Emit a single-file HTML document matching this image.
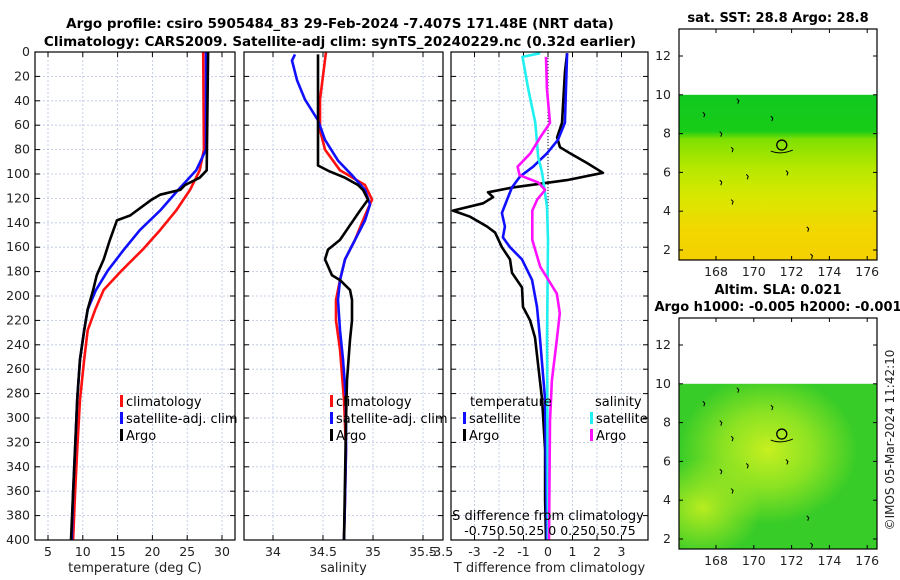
<!DOCTYPE html>
<html><head><meta charset="utf-8"><style>
body{margin:0;background:#fff;}
svg{display:block;font-family:"DejaVu Sans","Liberation Sans",sans-serif;}
</style></head><body>
<svg id="c" width="900" height="580" viewBox="0 0 900 580">
<defs>
<linearGradient id="sst" x1="0" y1="0" x2="0" y2="1">
<stop offset="0" stop-color="#10c820"/><stop offset="0.22" stop-color="#18cc18"/><stop offset="0.27" stop-color="#80e000"/><stop offset="0.45" stop-color="#b8e800"/><stop offset="0.62" stop-color="#d8e800"/><stop offset="0.8" stop-color="#f0d800"/><stop offset="1" stop-color="#f4d000"/>
</linearGradient>
<radialGradient id="sla1" cx="0.45" cy="0.4" r="0.45"><stop offset="0" stop-color="#c8f020"/><stop offset="0.5" stop-color="#b0ec20" stop-opacity="0.7"/><stop offset="1" stop-color="#b0ec20" stop-opacity="0"/></radialGradient>
<radialGradient id="sla2" cx="0.12" cy="0.75" r="0.3"><stop offset="0" stop-color="#b8ec20"/><stop offset="1" stop-color="#b8ec20" stop-opacity="0"/></radialGradient>
</defs>
<g font-weight="bold" font-size="13.5" text-anchor="middle" fill="#000">
<text x="340" y="28">Argo profile: csiro 5905484_83 29-Feb-2024 -7.407S 171.48E (NRT data)</text>
<text x="340" y="46">Climatology: CARS2009. Satellite-adj clim: synTS_20240229.nc (0.32d earlier)</text>
</g>
<g id="panels"></g>
<g id="maps"></g>
<text transform="translate(894,440) rotate(-90)" font-size="12" text-anchor="middle" fill="#222">©IMOS 05-Mar-2024 11:42:10</text>
</svg>
<script>
// ---- data ----
const clim_T_depth=[0,80,97,113,130,146,162,179,195,211,228,252,285,326,361,400];
const clim_T=[27.3,27.4,26.8,25.4,23.4,21.1,18.6,15.6,13.0,11.8,10.7,10.2,9.6,9.2,8.9,8.6];
const sat_T=[27.7,27.7,26.3,23.7,21.1,18.2,15.9,13.6,11.9,10.7,10.2,9.6,9.2,8.9,8.6,8.4];
const argo_T_depth=[0,97,103,109,113,117,121,134,138,154,170,183,195,211,228,252,285,400];
const argo_T=[28.0,27.8,26.8,24.7,24.0,21.1,19.9,16.8,14.9,13.9,13.0,12.0,11.5,10.7,10.2,9.6,9.2,8.3];

const clim_S_depth=[0,39,64,80,97,109,121,134,154,170,187,203,220,244,285,326,367,400];
const clim_S=[34.53,34.47,34.47,34.52,34.67,34.92,34.99,34.92,34.82,34.72,34.67,34.63,34.63,34.67,34.71,34.73,34.72,34.71];
const sat_S_depth=[2,7,23,39,56,72,89,101,113,125,138,154,170,187,203,228,252,285,326,367,400];
const sat_S=[34.22,34.19,34.24,34.32,34.45,34.52,34.65,34.79,34.92,34.97,34.92,34.82,34.72,34.67,34.65,34.67,34.70,34.73,34.73,34.72,34.71];
const argo_S_depth=[2,39,93,98,103,109,113,121,130,142,154,162,170,183,187,195,203,220,236,269,302,400];
const argo_S=[34.45,34.45,34.45,34.57,34.72,34.85,34.90,34.95,34.87,34.77,34.67,34.55,34.52,34.59,34.67,34.77,34.79,34.79,34.77,34.74,34.73,34.71];

const dT_argo_depth=[1,17,58,70,78,83,91,99,105,111,115,119,124,130,135,143,148,160,170,181,193,209,220,234,285,326,367,400];
const dT_argo=[0.78,0.69,0.57,0.37,0.49,0.90,1.59,2.24,0.78,-1.43,-2.45,-2.24,-2.65,-3.88,-3.18,-2.49,-2.16,-1.88,-1.55,-1.47,-1.06,-1.02,-0.73,-0.53,-0.24,-0.12,-0.12,-0.08];
const dT_sat_depth=[1,58,72,83,94,102,111,121,132,143,152,160,170,187,209,234,285,400];
const dT_sat=[0.78,0.69,0.41,-0.04,-0.61,-1.14,-1.47,-1.67,-1.88,-1.76,-1.84,-1.55,-1.06,-0.65,-0.45,-0.33,-0.12,-0.04];
const dS_sat_depth=[1,4,31,58,86,99,127,154,236,400];
const dS_sat=[-0.08,-0.26,-0.20,-0.13,-0.10,-0.06,-0.01,0,-0.01,0];
const dS_argo_depth=[4,31,58,70,83,94,101,107,113,121,130,154,176,198,214,236,269,302,400];
const dS_argo=[-0.02,-0.01,0.02,-0.08,-0.18,-0.31,-0.29,-0.10,-0.03,-0.11,-0.16,-0.16,-0.08,0.09,0.12,0.09,0.04,0.02,0.01];

const depthTicks=[0,20,40,60,80,100,120,140,160,180,200,220,240,260,280,300,320,340,360,380,400];
const tempTicks=[5,10,15,20,25,30];
const salTicks=[34,34.5,35,35.5];
const dTTicks=[-3,-2,-1,0,1,2,3];
const latTicks=[2,4,6,8,10,12];
const lonTicks=[168,170,172,174,176];

// ---- helpers ----
const NS='http://www.w3.org/2000/svg';
function mk(tag,attrs,parent){const e=document.createElementNS(NS,tag);for(const k in attrs)e.setAttribute(k,attrs[k]);parent.appendChild(e);return e;}
const Y0=52,Y1=540;
const yD=d=>Y0+d*(Y1-Y0)/400;
const panels=document.getElementById('panels');

function panel(name,x0,x1,xs,ticks,tickFmt,showY,xlabel){
  const g=mk('g',{},panels);
  
  
  const grid=mk('g',{stroke:'#b8c4e4','stroke-width':0.8,'stroke-dasharray':'2,2'},g);
  
  
  depthTicks.forEach(d=>{mk('line',{x1:x0,x2:x1,y1:yD(d),y2:yD(d)},grid);});
  ticks.forEach(t=>{const x=xs(t);if(x>x0&&x<x1)mk('line',{x1:x,x2:x,y1:Y0,y2:Y1},grid);});
  const tk=mk('g',{stroke:'#000','stroke-width':1},g);
  depthTicks.forEach(d=>{mk('line',{x1:x0,x2:x0+5,y1:yD(d),y2:yD(d)},tk);mk('line',{x1:x1,x2:x1-5,y1:yD(d),y2:yD(d)},tk);});
  ticks.forEach(t=>{const x=xs(t);mk('line',{x1:x,x2:x,y1:Y1,y2:Y1-5},tk);mk('line',{x1:x,x2:x,y1:Y0,y2:Y0+5},tk);});
  const lab=mk('g',{'font-size':12.5,fill:'#222','text-anchor':'middle'},g);
  ticks.forEach(t=>{const e=mk('text',{x:xs(t),y:Y1+16},lab);e.textContent=tickFmt(t);
    
    });
  if(showY){depthTicks.forEach(d=>{const e=mk('text',{x:x0-5,y:yD(d)+4,'text-anchor':'end'},lab);e.textContent=d;
    
    });}
  const xl=mk('text',{x:(x0+x1)/2,y:572,'font-size':13},lab);xl.textContent=xlabel;
  
  
  return g;
}
function line(g,name,depths,vals,xs,color,w){
  const d=depths.map((dp,i)=>(i?'L':'M')+xs(vals[i]).toFixed(1)+','+yD(dp).toFixed(1)).join('');
  const p=mk('path',{d:d,fill:'none',stroke:color,'stroke-width':w||2.6,'stroke-linejoin':'round'},g);
  
  
}
function frame(g,x0,x1){const r=mk('rect',{x:x0,y:Y0,width:x1-x0,height:Y1-Y0,fill:'none',stroke:'#000','stroke-width':1.2},g);
  
  }
function legend(g,x,y,items){
  items.forEach((it,i)=>{
    if(it[1]){const b=mk('rect',{x:x,y:y+i*17-11,width:3,height:12,fill:it[1]},g);
      
      }
    const t=mk('text',{x:it[1]?x+6:x,y:y+i*17,'font-size':13,fill:'#000'},g);t.textContent=it[0];
    
    
  });
}

// panel 1 temperature
const xT=t=>48+(t-5)*6.96;
let g1=panel('temperature-panel',35,235,xT,tempTicks,t=>t,true,'temperature (deg C)');
line(g1,'clim-temp-line',clim_T_depth,clim_T,xT,'#ff1010');
line(g1,'sat-temp-line',clim_T_depth,sat_T,xT,'#1010ff');
line(g1,'argo-temp-line',argo_T_depth,argo_T,xT,'#000');
frame(g1,35,235);
legend(g1,120,406,[['climatology','#ff1010'],['satellite-adj. clim','#1010ff'],['Argo','#000']]);

// panel 2 salinity
const xS=s=>273+(s-34)*100;
let g2=panel('salinity-panel',244,443,xS,salTicks,t=>t,false,'salinity');
line(g2,'clim-sal-line',clim_S_depth,clim_S,xS,'#ff1010');
line(g2,'sat-sal-line',sat_S_depth,sat_S,xS,'#1010ff');
line(g2,'argo-sal-line',argo_S_depth,argo_S,xS,'#000');
frame(g2,244,443);
legend(g2,330,406,[['climatology','#ff1010'],['satellite-adj. clim','#1010ff'],['Argo','#000']]);

// panel 3 differences
const xdT=v=>548+v*24.5;
const xdS=v=>548+v*98;
let g3=panel('difference-panel',451,648,xdT,dTTicks,t=>t,false,'T difference from climatology');
const zl=mk('line',{x1:548,x2:548,y1:Y0,y2:Y1,stroke:'#333','stroke-width':1.2,'stroke-dasharray':'1,2'},g3);


line(g3,'argo-dT-line',dT_argo_depth,dT_argo,xdT,'#000');
line(g3,'sat-dT-line',dT_sat_depth,dT_sat,xdT,'#1010ff');
line(g3,'sat-dS-line',dS_sat_depth,dS_sat,xdS,'#20f0f0');
line(g3,'argo-dS-line',dS_argo_depth,dS_argo,xdS,'#ff10ff');
frame(g3,451,648);
legend(g3,470,406,[['temperature',null]]);
legend(g3,463,423,[['satellite','#1010ff'],['Argo','#000']]);
legend(g3,595,406,[['salinity',null]]);
legend(g3,590,423,[['satellite','#20f0f0'],['Argo','#ff10ff']]);
const s1=mk('text',{x:548,y:520,'font-size':13,'text-anchor':'middle'},g3);s1.textContent='S difference from climatology';


const s2=mk('text',{x:550,y:535,'font-size':12.5,'text-anchor':'middle'},g3);s2.textContent='-0.750.50.25 0 0.250.50.75';


const t35=mk('text',{x:441,y:Y1+16,'font-size':12.5,'text-anchor':'middle',fill:'#222'},g3);t35.textContent='-3.5';



// maps
const maps=document.getElementById('maps');
function map(name,top,title,fill){
  const g=mk('g',{},maps);
  
  
  const L=679,R=877,H=231;
  const lat=v=>top+27+(12-v)*19.4;
  const lon=v=>716+(v-168)*18.9;
  const f=mk('rect',{x:L,y:lat(10),width:R-L,height:lat(1.5)-lat(10),fill:fill},g);
  
  
  if(name==='sla-map'){
    mk('rect',{x:L,y:lat(10),width:R-L,height:lat(1.5)-lat(10),fill:'url(#sla1)'},g);
    mk('rect',{x:L,y:lat(10),width:R-L,height:lat(1.5)-lat(10),fill:'url(#sla2)'},g);
  }
  const c=mk('circle',{cx:lon(171.48),cy:lat(7.41),r:5,fill:'none',stroke:'#000','stroke-width':1.3},g);
  
  
  mk('path',{d:`M${lon(170.9)},${lat(7.1)}q10,4 22,-1`,fill:'none',stroke:'#000','stroke-width':1},g);
  [[167.3,9.1],[168.2,8.1],[168.8,7.3],[169.6,5.9],[168.2,5.6],[168.8,4.6],[171.7,6.1],[172.8,3.2],[173,1.8],[170.9,8.9],[169.1,9.8]].forEach(p=>{
    mk('path',{d:`M${lon(p[0])},${lat(p[1])}l2,2l-1,3`,fill:'none',stroke:'#000','stroke-width':1},g);});
  mk('rect',{x:L,y:top,width:R-L,height:H,fill:'none',stroke:'#000','stroke-width':1.2},g);
  const lab=mk('g',{'font-size':12.5,fill:'#222'},g);
  latTicks.forEach(v=>{const y=lat(v);
    mk('line',{x1:L,x2:L+4,y1:y,y2:y,stroke:'#000'},g);mk('line',{x1:R,x2:R-4,y1:y,y2:y,stroke:'#000'},g);
    const t=mk('text',{x:L-8,y:y+4,'text-anchor':'end'},lab);t.textContent=v;
    
    });
  lonTicks.forEach(v=>{const x=lon(v);
    mk('line',{x1:x,x2:x,y1:top+H,y2:top+H-4,stroke:'#000'},g);mk('line',{x1:x,x2:x,y1:top,y2:top+4,stroke:'#000'},g);
    const t=mk('text',{x:x,y:top+H+16,'text-anchor':'middle'},lab);t.textContent=v;
    
    });
  title.forEach((s,i)=>{const t=mk('text',{x:(L+R)/2,y:top-7-(title.length-1-i)*17,'font-size':13,'font-weight':'bold','text-anchor':'middle'},g);t.textContent=s;
    
    });
}
map('sst-map',29,['sat. SST: 28.8 Argo: 28.8'],'url(#sst)');
map('sla-map',318,['Altim. SLA: 0.021','Argo h1000: -0.005 h2000: -0.001'],'#38cc28');
</script>
</body></html>
